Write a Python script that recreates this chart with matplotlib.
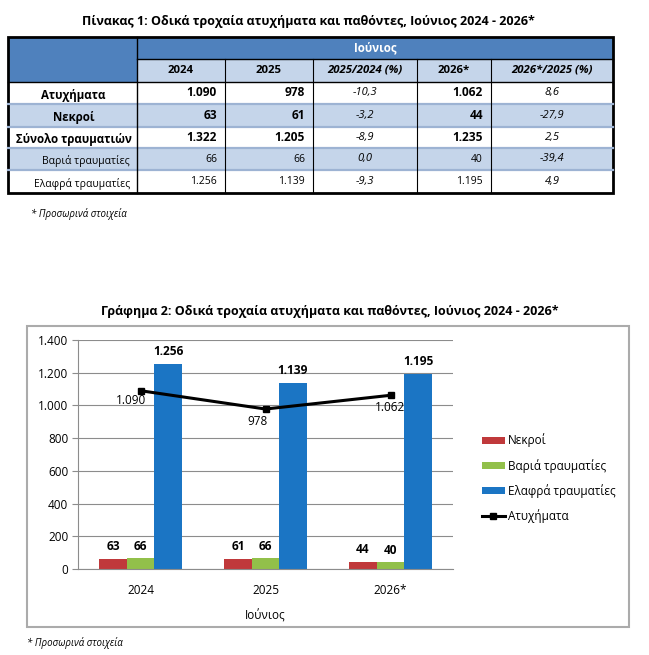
import numpy as np
import matplotlib
matplotlib.use("Agg")
import matplotlib.pyplot as plt
from matplotlib.patches import Rectangle
from matplotlib.ticker import FuncFormatter

plt.rcParams['font.family'] = ['Open Sans', 'DejaVu Sans']

W, H = 649, 655

# data
years = ['2024', '2025', '2026*']
accidents = [1090, 978, 1062]
killed = [63, 61, 44]
injured_total = [1322, 1205, 1235]
serious = [66, 66, 40]
slight = [1256, 1139, 1195]
chg_25_24 = [-10.3, -3.2, -8.9, 0.0, -9.3]
chg_26_25 = [8.6, -27.9, 2.5, -39.4, 4.9]
row_names = ['Ατυχήματα', 'Νεκροί', 'Σύνολο τραυματιών', 'Βαριά τραυματίες', 'Ελαφρά τραυματίες']
col_names = ['2024', '2025', '2025/2024 (%)', '2026*', '2026*/2025 (%)']

dark_blue = '#4F81BD'
light_blue = '#C5D5EA'
red = '#C0393B'
green = '#92C04A'
blue = '#1B75C4'
grey = '#8C8C8C'


def thou(v):
    return f"{int(v):,}".replace(',', '.')


def pct(v):
    return f"{v:.1f}".replace('.', ',')


fig = plt.figure(figsize=(W / 100, H / 100), dpi=100)

# ---- table (pixel coords) ----
tx = fig.add_axes([0, 0, 1, 1])
tx.set_xlim(0, W)
tx.set_ylim(H, 0)
tx.axis('off')

col_x = [8, 137, 225, 313, 417, 491, 613]
row_y = [37, 59, 82, 104, 127, 148, 170, 193]

tx.text(308, 21, 'Πίνακας 1: Οδικά τροχαία ατυχήματα και παθόντες, Ιούνιος 2024 - 2026*',
        ha='center', va='center', fontsize=9, fontweight='bold')

# backgrounds
tx.add_patch(Rectangle((col_x[0], row_y[0]), col_x[1] - col_x[0], row_y[2] - row_y[0], fc=dark_blue, ec='none'))
tx.add_patch(Rectangle((col_x[1], row_y[0]), col_x[-1] - col_x[1], row_y[1] - row_y[0], fc=dark_blue, ec='none'))
tx.add_patch(Rectangle((col_x[1], row_y[1]), col_x[-1] - col_x[1], row_y[2] - row_y[1], fc=light_blue, ec='none'))
for r in range(len(row_names)):
    fc = light_blue if r % 2 == 1 else 'white'
    tx.add_patch(Rectangle((col_x[0], row_y[r + 2]), col_x[-1] - col_x[0], row_y[r + 3] - row_y[r + 2], fc=fc, ec='none'))

# grid lines
for r in range(3, len(row_y) - 1):
    tx.plot([col_x[0], col_x[-1]], [row_y[r], row_y[r]], color='#9DB3D3', lw=1.6)
tx.plot([col_x[1], col_x[-1]], [row_y[1], row_y[1]], color='black', lw=1.0)
tx.plot([col_x[0], col_x[-1]], [row_y[2], row_y[2]], color='black', lw=1.0)
tx.plot([col_x[1], col_x[1]], [row_y[0], row_y[-1]], color='black', lw=1.0)
for c in range(2, len(col_x) - 1):
    tx.plot([col_x[c], col_x[c]], [row_y[1], row_y[-1]], color='black', lw=0.8)
tx.add_patch(Rectangle((col_x[0], row_y[0]), col_x[-1] - col_x[0], row_y[-1] - row_y[0],
                       fill=False, ec='black', lw=2.0))

tx.text((col_x[1] + col_x[-1]) / 2, (row_y[0] + row_y[1]) / 2, 'Ιούνιος', color='white',
        ha='center', va='center', fontsize=8.3, fontweight='bold')
for c, name in enumerate(col_names):
    tx.text((col_x[c + 1] + col_x[c + 2]) / 2, (row_y[1] + row_y[2]) / 2, name,
            ha='center', va='center', fontsize=8.2, fontweight='bold',
            style='italic' if '%' in name else 'normal')

table_vals = [accidents, killed, injured_total, serious, slight]
for r, name in enumerate(row_names):
    yc = (row_y[r + 2] + row_y[r + 3]) / 2
    big = r < 3
    fw = 'bold' if big else 'normal'
    fs = 8.6 if big else 7.5
    if big:
        tx.text((col_x[0] + col_x[1]) / 2 + 1, yc + 2, name, ha='center', va='center', fontsize=8.3, fontweight=fw)
    else:
        tx.text(col_x[1] - 7, yc + 2, name, ha='right', va='center', fontsize=fs, fontweight=fw)
    vals = table_vals[r]
    for c, v in zip([1, 2, 4], vals):
        tx.text(col_x[c + 1] - 8, yc, thou(v), ha='right', va='center', fontsize=fs, fontweight=fw)
    tx.text((col_x[3] + col_x[4]) / 2, yc, pct(chg_25_24[r]), ha='center', va='center',
            fontsize=8, style='italic')
    tx.text((col_x[5] + col_x[6]) / 2, yc, pct(chg_26_25[r]), ha='center', va='center',
            fontsize=8, style='italic')

tx.text(31, 214, '* Προσωρινά στοιχεία', ha='left', va='center', fontsize=7, style='italic')

# ---- chart ----
tx.text(330, 311, 'Γράφημα 2: Οδικά τροχαία ατυχήματα και παθόντες, Ιούνιος 2024 - 2026*',
        ha='center', va='center', fontsize=9, fontweight='bold')
tx.add_patch(Rectangle((27, 326), 629 - 27, 627 - 326, fill=False, ec='#ABABAB', lw=1.5))
tx.text(27, 643, '* Προσωρινά στοιχεία', ha='left', va='center', fontsize=7, style='italic')

ax = fig.add_axes([78 / W, 1 - 569 / H, 375 / W, 229 / H])
x = np.arange(len(years))
w = 0.22
b1 = ax.bar(x - w, killed, w, color=red, label='Νεκροί', zorder=2)
b2 = ax.bar(x, serious, w, color=green, label='Βαριά τραυματίες', zorder=2)
b3 = ax.bar(x + w, slight, w, color=blue, label='Ελαφρά τραυματίες', zorder=2)
ln, = ax.plot(x, accidents, color='black', lw=2.2, marker='s', ms=5, zorder=4, label='Ατυχήματα')

for b, vals in [(b1, killed), (b2, serious), (b3, slight)]:
    ax.bar_label(b, labels=[thou(v) for v in vals], padding=4, fontsize=8.6, fontweight='bold')

offs = [(-7, -7), (-6, -9), (0, -9)]
for xi, v, o in zip(x, accidents, offs):
    ax.annotate(thou(v), (xi, v), xytext=o, textcoords='offset points',
                ha='center', va='center', fontsize=8.5, zorder=1.5)

ax.set_xlim(-0.5, 2.5)
ax.set_ylim(0, 1400)
ax.set_yticks(np.arange(0, 1401, 200))
ax.yaxis.set_major_formatter(FuncFormatter(lambda v, p: thou(v)))
ax.set_xticks(x)
ax.set_xticklabels(years)
ax.yaxis.grid(True, color=grey, lw=0.8)
ax.set_axisbelow(True)
for s in ['top', 'right']:
    ax.spines[s].set_visible(False)
for s in ['left', 'bottom']:
    ax.spines[s].set_color(grey)
    ax.spines[s].set_linewidth(0.8)
ax.tick_params(axis='y', length=4, color=grey, labelsize=8.5, pad=3)
ax.tick_params(axis='x', length=0, labelsize=8.5, pad=11)
ax.set_xlabel('Ιούνιος', fontsize=8.5, labelpad=9)

fig.legend(handles=[b1, b2, b3, ln], loc='upper left', bbox_to_anchor=(471 / W, 1 - 423 / H),
           frameon=False, fontsize=8.5, handlelength=2.0, handleheight=0.55,
           handletextpad=0.2, labelspacing=0.95)

fig.savefig('out.png', dpi=100)
